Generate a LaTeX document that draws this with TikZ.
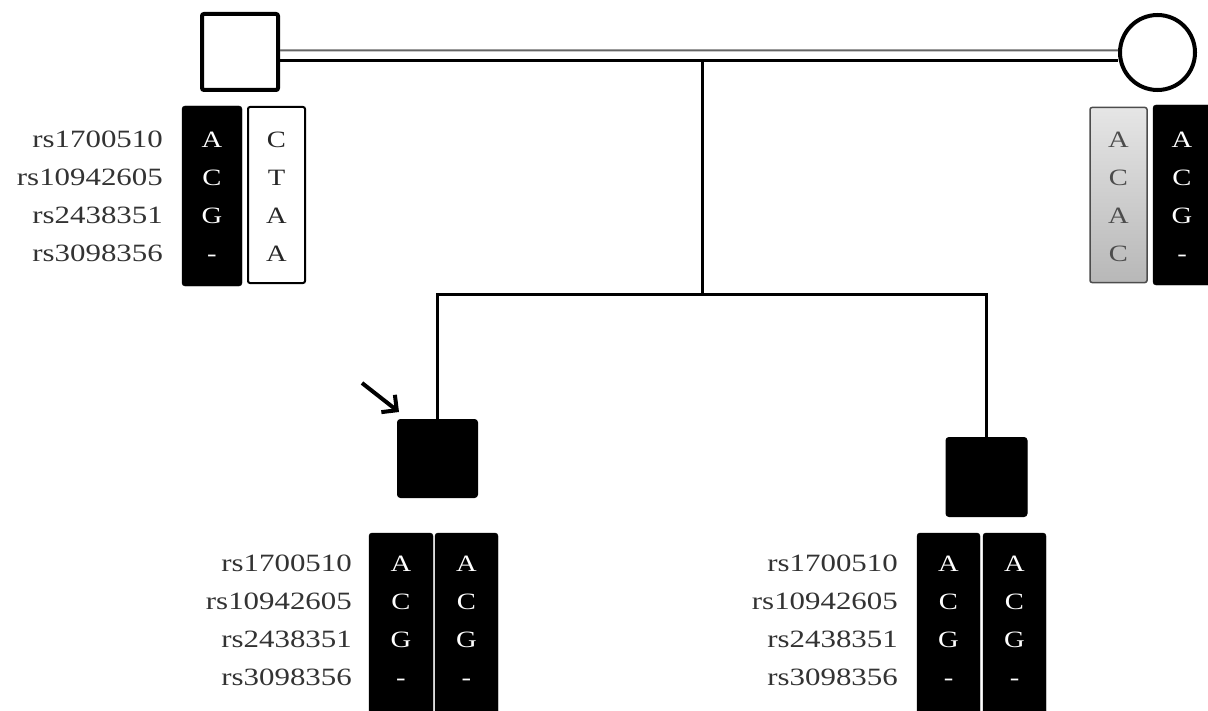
\documentclass[tikz,border=0pt]{standalone}
\usepackage{fontspec}
\setmainfont{Liberation Serif}
\usetikzlibrary{arrows.meta,calc}
\newcommand\snpfs{\fontsize{25}{29}\selectfont}
\newcommand\letfs{\fontsize{23.5}{27}\selectfont}
\newcommand\snpwide[1]{\scalebox{1.24}[1]{#1}}
\newcommand\letwide[1]{\scalebox{1.22}[1]{#1}}
\begin{document}
\begin{tikzpicture}[x=1bp,y=-1bp,
  pline/.style={line width=3bp,black},
  male/.style={draw,line width=4bp,rounded corners=2bp,minimum width=76bp,minimum height=76bp,inner sep=0},
  female/.style={draw,circle,line width=4bp,minimum size=75bp,inner sep=0},
  affected/.style={fill=black,draw=black,line width=1bp,rounded corners=3bp,inner sep=0},
  hapblack/.style={fill=black,draw=black,rounded corners=3bp,inner sep=0,minimum height=180bp},
  hapwhite/.style={fill=white,draw=black,line width=2bp,rounded corners=2bp,inner sep=0,minimum height=176bp,minimum width=57bp},
  hapgray/.style={top color=black!10,bottom color=black!28,draw=black!70,line width=1.5bp,rounded corners=2bp,inner sep=0,minimum height=175bp,minimum width=57bp},
  snp/.style={anchor=base east,inner sep=0,text=black!80,font=\snpfs},
  wlet/.style={anchor=base,inner sep=0,text=white,font=\letfs},
  blet/.style={anchor=base,inner sep=0,text=black!85,font=\letfs},
  glet/.style={anchor=base,inner sep=0,text=black!70,font=\letfs}
]
\useasboundingbox (0,0) rectangle (1208,711);
\clip (0,0) rectangle (1208,711);

% parents
\node[male] (f) at (240,52) {};
\node[female] (m) at (1157.5,52.5) {};
% marriage double line
\draw[line width=2bp,black!60] ($(f.east)+(0,-1.5)$) -- ($(m.west)+(0,-2)$);
\draw[pline] ($(f.east)+(0,8.5)$) -- ($(m.west)+(0,8)$);
\coordinate (mid) at (702,60.5);
\coordinate (sib) at (702,294);

% children
\node[affected,minimum width=80bp,minimum height=78bp] (c1) at (437.5,458.5) {};
\node[affected,minimum width=81bp,minimum height=79bp] (c2) at (986.5,477) {};
\draw[pline] (mid) -- (sib);
\draw[pline] (sib) -| (c1.north);
\draw[pline] (sib) -| (c2.north);

% proband arrow
\coordinate (arrtail) at (362,383);
\draw[line width=4bp,-{Straight Barb[length=11bp,width=22bp]}] (arrtail) -- ($(c1.north west)+(2,-7)$);

% haplotype boxes
\node[hapblack,minimum width=60bp] (fb) at (212,196) {};
\node[hapwhite] (fw) at (276.5,195) {};
\node[hapgray] (mg) at (1118.5,195) {};
\node[hapblack,minimum width=58bp] (mb) at (1182,195) {};
\node[hapblack,minimum width=64bp,minimum height=190bp] (c1a) at (401,628) {};
\node[hapblack,minimum width=63bp,minimum height=190bp] (c1b) at (466.5,628) {};
\node[hapblack,minimum width=63bp,minimum height=190bp] (c2a) at (948.5,628) {};
\node[hapblack,minimum width=63bp,minimum height=190bp] (c2b) at (1014.5,628) {};

% SNP labels and alleles
\foreach \n/\y in {1/148,2/186,3/223.5,4/261}{
  \coordinate (fr\n) at (0,\y);
}
\foreach \n/\y in {1/571,2/609,3/647,4/685}{
  \coordinate (cr\n) at (0,\y);
}
\foreach \n/\s in {1/rs1700510,2/rs10942605,3/rs2438351,4/rs3098356}{
  \node[snp] (fl\n) at (163,0 |- fr\n) {\snpwide{\s}};
  \node[snp] (c1l\n) at (352,0 |- cr\n) {\snpwide{\s}};
  \node[snp] (c2l\n) at (898,0 |- cr\n) {\snpwide{\s}};
}
\foreach \n/\a in {1/A,2/C,3/G,4/-}{
  \node[wlet] (fbl\n) at (fb.center |- fr\n) {\letwide{\a}};
  \node[wlet] (mbl\n) at (mb.center |- fr\n) {\letwide{\a}};
  \node[wlet] (c1al\n) at (c1a.center |- cr\n) {\letwide{\a}};
  \node[wlet] (c1bl\n) at (c1b.center |- cr\n) {\letwide{\a}};
  \node[wlet] (c2al\n) at (c2a.center |- cr\n) {\letwide{\a}};
  \node[wlet] (c2bl\n) at (c2b.center |- cr\n) {\letwide{\a}};
}
\foreach \n/\a in {1/C,2/T,3/A,4/A}{
  \node[blet] (fwl\n) at (fw.center |- fr\n) {\letwide{\a}};
}
\foreach \n/\a in {1/A,2/C,3/A,4/C}{
  \node[glet] (mgl\n) at (mg.center |- fr\n) {\letwide{\a}};
}
\end{tikzpicture}
\end{document}
